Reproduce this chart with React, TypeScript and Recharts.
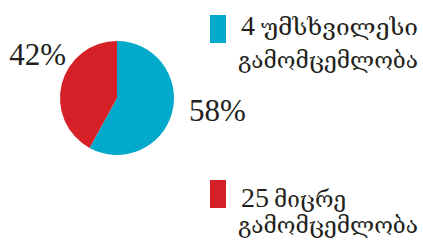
import { Legend, Pie, PieChart, Cell } from 'recharts'

const names = ['4 უმსხვილესი გამომცემლობა', '25 მიცრე გამომცემლობა']
const counts = ['4', '25']
const firstWords = ['უმსხვილესი', 'მიცრე']
const secondWord = 'გამომცემლობა'
const shares = [58, 42]
const colors = ['#03A9CB', '#D62027']

const data = names.map((name, i) => ({ name, value: shares[i] }))

const numFont = '"Liberation Serif", serif'
const geoFont = '"DejaVu Serif", serif'
const ink = '#231f20'

// legend layout per row
const rowTop = [15, 180]
const rowBase1 = [35, 207]
const rowBase2 = [68, 233]
const wordX = [261, 274]
const wordW = [157, 72]

function renderLabel(props: any) {
  const { cx, cy, outerRadius, index, value } = props
  const right = index === 0
  const x = right ? cx + outerRadius + 15 : cx - outerRadius + 6
  const y = right ? cy + 23 : cy - outerRadius + 24
  return (
    <text
      x={x}
      y={y}
      fill={ink}
      fontSize={31}
      fontFamily={numFont}
      textAnchor={right ? 'start' : 'end'}
    >
      {`${value}%`}
    </text>
  )
}

function renderLegend() {
  return (
    <svg width={423} height={242} style={{ display: 'block' }}>
      {counts.map((c, i) => (
        <g key={c}>
          <rect x={210} y={rowTop[i]} width={16} height={28} fill={colors[i]} />
          <text x={241} y={rowBase1[i]} fill={ink} fontFamily={numFont} fontSize={28}>
            {c}
          </text>
          <text
            x={wordX[i]}
            y={rowBase1[i]}
            fill={ink}
            fontFamily={geoFont}
            fontSize={23}
            textLength={wordW[i]}
            lengthAdjust="spacingAndGlyphs"
          >
            {firstWords[i]}
          </text>
          <text
            x={238}
            y={rowBase2[i]}
            fill={ink}
            fontFamily={geoFont}
            fontSize={23}
            textLength={180}
            lengthAdjust="spacingAndGlyphs"
          >
            {secondWord}
          </text>
        </g>
      ))}
    </svg>
  )
}

export default function App() {
  return (
    <div style={{ position: 'absolute', left: 0, top: 0, background: '#fff' }}>
      <PieChart width={423} height={242} margin={{ top: 0, right: 0, bottom: 0, left: 0 }}>
        <Pie
          data={data}
          dataKey="value"
          nameKey="name"
          cx={117}
          cy={98}
          outerRadius={57}
          startAngle={90}
          endAngle={-270}
          stroke="none"
          labelLine={false}
          label={renderLabel}
          isAnimationActive={false}
        >
          {data.map((d, i) => (
            <Cell key={d.name} fill={colors[i]} />
          ))}
        </Pie>
        <Legend
          content={renderLegend}
          wrapperStyle={{ position: 'absolute', left: 0, top: 0, width: 423, height: 242 }}
        />
      </PieChart>
    </div>
  )
}
